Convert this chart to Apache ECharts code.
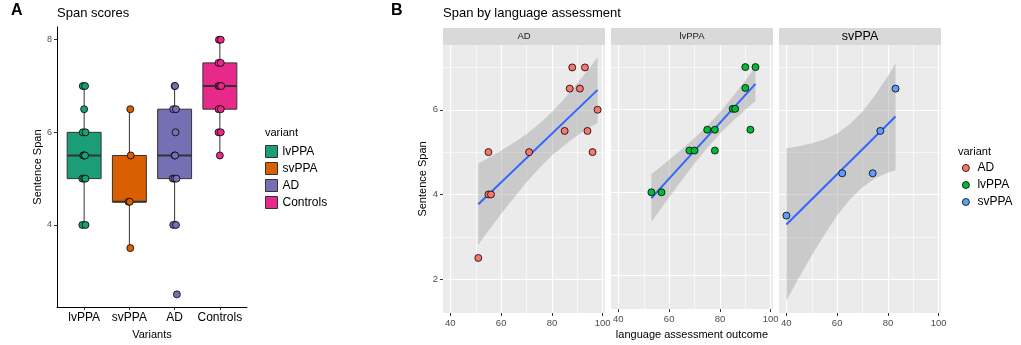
<!DOCTYPE html>
<html>
<head>
<meta charset="utf-8">
<script src="https://cdn.jsdelivr.net/npm/echarts@6/dist/echarts.min.js"></script>
<style>
html, body { margin: 0; padding: 0; background: #fff; }
#chart { width: 1021px; height: 345px; }
</style>
</head>
<body>
<div id="chart"></div>
<script>
var FONT = '"Liberation Sans", Arial, sans-serif';

// ---- panel A : span scores by variant ----
var variantsA = ['lvPPA', 'svPPA', 'AD', 'Controls'];
var colorsA = ['#1b9e77', '#d95f02', '#7570b3', '#e7298a'];
// min, q1, median, q3, max
var boxLvPPA = [4, 5, 5.5, 6, 7];
var boxSvPPA = [3.5, 4.5, 4.5, 5.5, 6.5];
var boxAD = [4, 5, 5.5, 6.5, 7];
var boxControls = [5.5, 6.5, 7, 7.5, 8];
var spanLvPPA = [7, 7, 6.5, 6, 6, 5.5, 5.5, 5.5, 5, 5, 5, 4, 4];
var jitLvPPA = [-0.03, 0.02, 0.0, -0.03, 0.03, -0.02, 0.0, 0.02, -0.04, 0.0, 0.03, -0.04, 0.03];
var spanSvPPA = [6.5, 5.5, 4.5, 4.5, 3.5];
var jitSvPPA = [0.02, 0.03, -0.02, 0.01, 0.02];
var spanAD = [7, 7, 6.5, 6.5, 6, 5.5, 5.5, 5, 5, 5, 4, 4, 2.5];
var jitAD = [0.0, 0.01, -0.03, 0.03, 0.02, 0.0, 0.01, -0.04, 0.0, 0.04, -0.03, 0.03, 0.05];
var spanControls = [8, 8, 7.5, 7.5, 7, 7, 7, 6.5, 6.5, 6, 6, 5.5];
var jitControls = [-0.02, 0.02, -0.03, 0.02, -0.03, 0.0, 0.03, -0.03, 0.02, -0.03, 0.02, 0.0];
var ticksSpanA = [4, 6, 8];

// ---- panel B : span by language assessment ----
var facets = ['AD', 'lvPPA', 'svPPA'];
var colorsB = ['#f8766d', '#00ba38', '#619cff'];
var langAD = [51, 55, 55, 56, 71, 85, 87, 88, 91, 93, 94, 96, 98];
var spanB_AD = [2.5, 5, 4, 4, 5, 5.5, 6.5, 7, 6.5, 7, 5.5, 5, 6];
var langLv = [53, 57, 68, 70, 75, 78, 78, 85, 86, 90, 90, 92, 94];
var spanB_Lv = [4, 4, 5, 5, 5.5, 5.5, 5, 6, 6, 6.5, 7, 5.5, 7];
var langSv = [40, 62, 74, 77, 83];
var spanB_Sv = [3.5, 4.5, 4.5, 5.5, 6.5];
// fitted line end points
var fitAD = [[51, 3.77], [98, 6.47]];
var fitLv = [[53, 3.86], [94, 6.60]];
var fitSv = [[40, 3.29], [83, 5.84]];
// confidence band
var bandX_AD = [51, 55, 60, 65, 70, 75, 80, 85, 90, 95, 98];
var bandLo_AD = [2.81, 3.14, 3.54, 3.92, 4.29, 4.62, 4.92, 5.17, 5.39, 5.59, 5.69];
var bandHi_AD = [4.73, 4.86, 5.04, 5.22, 5.43, 5.67, 5.95, 6.27, 6.63, 7.00, 7.24];
var bandX_Lv = [53, 60, 65, 70, 75, 80, 85, 90, 94];
var bandLo_Lv = [3.29, 3.88, 4.29, 4.69, 5.06, 5.40, 5.70, 5.98, 6.19];
var bandHi_Lv = [4.43, 4.78, 5.03, 5.30, 5.59, 5.92, 6.29, 6.68, 7.00];
var bandX_Sv = [40, 45, 50, 55, 60, 65, 70, 75, 80, 83];
var bandLo_Sv = [1.49, 2.04, 2.56, 3.05, 3.50, 3.88, 4.17, 4.38, 4.51, 4.57];
var bandHi_Sv = [5.09, 5.14, 5.21, 5.30, 5.44, 5.66, 5.96, 6.35, 6.80, 7.10];
var ticksLang = [40, 60, 80, 100];
var minorLang = [50, 70, 90];
var ticksSpanB = [2, 4, 6];
var minorSpanB = [3, 5, 7];

var boxes = [boxLvPPA, boxSvPPA, boxAD, boxControls];
var spansA = [spanLvPPA, spanSvPPA, spanAD, spanControls];
var jitsA = [jitLvPPA, jitSvPPA, jitAD, jitControls];
var langs = [langAD, langLv, langSv];
var spansB = [spanB_AD, spanB_Lv, spanB_Sv];
var fits = [fitAD, fitLv, fitSv];
var bandX = [bandX_AD, bandX_Lv, bandX_Sv];
var bandLo = [bandLo_AD, bandLo_Lv, bandLo_Sv];
var bandHi = [bandHi_AD, bandHi_Lv, bandHi_Sv];

var facetLeft = [443, 611, 779];
var facetW = 162;

function renderBox(params, api) {
    var x = api.value(0);
    var lo = api.coord([x, api.value(1)]);
    var q1 = api.coord([x, api.value(2)]);
    var md = api.coord([x, api.value(3)]);
    var q3 = api.coord([x, api.value(4)]);
    var hi = api.coord([x, api.value(5)]);
    var w = api.size([0.75, 0])[0];
    var col = api.visual('color');
    var ln = {stroke: '#333', lineWidth: 1};
    return {
        type: 'group',
        children: [
            {type: 'line', shape: {x1: lo[0], y1: lo[1], x2: q1[0], y2: q1[1]}, style: ln},
            {type: 'line', shape: {x1: q3[0], y1: q3[1], x2: hi[0], y2: hi[1]}, style: ln},
            {type: 'rect', shape: {x: q3[0] - w / 2, y: q3[1], width: w, height: q1[1] - q3[1]},
                style: {fill: col, stroke: '#333', lineWidth: 1}},
            {type: 'line', shape: {x1: md[0] - w / 2, y1: md[1], x2: md[0] + w / 2, y2: md[1]},
                style: {stroke: '#333', lineWidth: 2}}
        ]
    };
}

function ribbon(xs, lo, hi) {
    return function (params, api) {
        var pts = [];
        for (var i = 0; i < xs.length; i++) pts.push(api.coord([xs[i], hi[i]]));
        for (var j = xs.length - 1; j >= 0; j--) pts.push(api.coord([xs[j], lo[j]]));
        return {type: 'polygon', shape: {points: pts}, style: {fill: 'rgba(153,153,153,0.4)'}};
    };
}

var grids = [{left: 57, top: 27, width: 190, height: 286}];
facetLeft.forEach(function (l) {
    grids.push({left: l, top: 45, width: facetW, height: 268, show: true,
        backgroundColor: '#ebebeb', borderWidth: 0});
});

var xAxes = [{
    gridIndex: 0, type: 'value', min: 0.4, max: 4.6,
    axisLine: {show: true, onZero: false, lineStyle: {color: '#000', width: 1}},
    axisTick: {show: true, customValues: [1, 2, 3, 4], length: 3, lineStyle: {color: '#333'}},
    axisLabel: {customValues: [1, 2, 3, 4], formatter: function (v) { return variantsA[Math.round(v) - 1]; },
        fontSize: 12, color: '#000', margin: 5, fontFamily: FONT},
    splitLine: {show: false},
    name: 'Variants', nameLocation: 'middle', nameGap: 15,
    nameTextStyle: {fontSize: 11, color: '#000', fontFamily: FONT}
}];
var yAxes = [{
    gridIndex: 0, type: 'value', min: 2.225, max: 8.275,
    axisLine: {show: true, onZero: false, lineStyle: {color: '#000', width: 1}},
    axisTick: {show: true, customValues: ticksSpanA, length: 3, lineStyle: {color: '#333'}},
    axisLabel: {customValues: ticksSpanA, fontSize: 9, color: '#4d4d4d', margin: 5, fontFamily: FONT},
    splitLine: {show: false},
    name: 'Sentence Span', nameLocation: 'middle', nameGap: 14,
    nameTextStyle: {fontSize: 11, color: '#000', fontFamily: FONT}
}];
// major axes for the facets
[0, 1, 2].forEach(function (k) {
    xAxes.push({
        gridIndex: k + 1, type: 'value', min: 37.1, max: 100.9,
        axisLine: {show: false},
        axisTick: {show: true, customValues: ticksLang, length: 3, lineStyle: {color: '#333'}},
        axisLabel: {customValues: ticksLang, fontSize: 9.5, color: '#4d4d4d', margin: 5, fontFamily: FONT},
        splitLine: {show: true, lineStyle: {color: '#fff', width: 1.2}},
        name: k === 1 ? 'language assessment outcome' : '', nameLocation: 'middle', nameGap: 15,
        nameTextStyle: {fontSize: 11, color: '#000', fontFamily: FONT}
    });
    yAxes.push({
        gridIndex: k + 1, type: 'value', min: 1.2, max: 7.53,
        axisLine: {show: false},
        axisTick: {show: k === 0, customValues: ticksSpanB, length: 3, lineStyle: {color: '#333'}},
        axisLabel: {show: k === 0, customValues: ticksSpanB, fontSize: 9.5, color: '#4d4d4d', margin: 5, fontFamily: FONT},
        splitLine: {show: true, lineStyle: {color: '#fff', width: 1.2}},
        name: k === 0 ? 'Sentence Span' : '', nameLocation: 'middle', nameGap: 14,
        nameTextStyle: {fontSize: 11, color: '#000', fontFamily: FONT}
    });
});
// minor grid lines
[0, 1, 2].forEach(function (k) {
    xAxes.push({
        gridIndex: k + 1, type: 'value', min: 37.1, max: 100.9,
        axisLine: {show: false},
        axisTick: {show: false, customValues: minorLang},
        axisLabel: {show: false, customValues: minorLang},
        splitLine: {show: true, lineStyle: {color: '#fff', width: 0.6}}
    });
    yAxes.push({
        gridIndex: k + 1, type: 'value', min: 1.2, max: 7.53,
        axisLine: {show: false},
        axisTick: {show: false, customValues: minorSpanB},
        axisLabel: {show: false, customValues: minorSpanB},
        splitLine: {show: true, lineStyle: {color: '#fff', width: 0.6}}
    });
});

var series = [];
variantsA.forEach(function (v, i) {
    series.push({
        type: 'custom', name: 'A|' + v, xAxisIndex: 0, yAxisIndex: 0,
        renderItem: renderBox, data: [[i + 1].concat(boxes[i])],
        encode: {x: 0, y: [1, 2, 3, 4, 5]},
        itemStyle: {color: colorsA[i]}, z: 2, silent: true
    });
    series.push({
        type: 'scatter', name: 'A|' + v, xAxisIndex: 0, yAxisIndex: 0,
        data: spansA[i].map(function (s, k) { return [i + 1 + jitsA[i][k], s]; }),
        symbolSize: 7,
        itemStyle: {color: colorsA[i], borderColor: '#000', borderWidth: 0.8, opacity: 1},
        z: 3, silent: true
    });
});
facets.forEach(function (f, k) {
    series.push({
        type: 'custom', xAxisIndex: k + 1, yAxisIndex: k + 1,
        renderItem: ribbon(bandX[k], bandLo[k], bandHi[k]),
        data: [[bandX[k][0], bandLo[k][0]]], encode: {x: 0, y: 1}, z: 2, silent: true
    });
    series.push({
        type: 'line', xAxisIndex: k + 1, yAxisIndex: k + 1, data: fits[k],
        showSymbol: false, lineStyle: {color: '#3366ff', width: 2}, z: 3, silent: true
    });
    series.push({
        type: 'scatter', name: 'B|' + f, xAxisIndex: k + 1, yAxisIndex: k + 1,
        data: langs[k].map(function (x, j) { return [x, spansB[k][j]]; }),
        symbolSize: 7,
        itemStyle: {color: colorsB[k], borderColor: '#000', borderWidth: 0.8, opacity: 1},
        z: 4, silent: true
    });
});

var graphic = [];
facets.forEach(function (f, k) {
    graphic.push({type: 'rect', left: facetLeft[k], top: 28, shape: {width: facetW, height: 17},
        style: {fill: '#d9d9d9'}, silent: true});
    graphic.push({type: 'text', x: facetLeft[k] + facetW / 2, y: 36.5,
        style: {text: f, align: 'center', verticalAlign: 'middle',
            fontSize: k === 2 ? 12.5 : 9.5, fill: k === 2 ? '#000' : '#1a1a1a', fontFamily: FONT}, silent: true});
});

var titleStyle = function (size, bold) {
    return {fontSize: size, fontWeight: bold ? 'bold' : 'normal', color: '#000', fontFamily: FONT};
};

var option = {
    animation: false,
    backgroundColor: '#fff',
    textStyle: {fontFamily: FONT},
    title: [
        {text: 'A', left: 11, top: 3, padding: 0, textStyle: titleStyle(16, true)},
        {text: 'Span scores', left: 57, top: 7, padding: 0, textStyle: titleStyle(13)},
        {text: 'variant', left: 265, top: 127, padding: 0, textStyle: titleStyle(11)},
        {text: 'B', left: 391, top: 3, padding: 0, textStyle: titleStyle(16, true)},
        {text: 'Span by language assessment', left: 443, top: 7, padding: 0, textStyle: titleStyle(13)},
        {text: 'variant', left: 958, top: 146, padding: 0, textStyle: titleStyle(11)}
    ],
    legend: [{
        orient: 'vertical', left: 265, top: 145, padding: 0,
        itemWidth: 12, itemHeight: 12, itemGap: 4, selectedMode: false,
        data: variantsA.map(function (v, i) {
            return {name: 'A|' + v, icon: 'rect',
                itemStyle: {color: colorsA[i], borderColor: '#333', borderWidth: 1}};
        }),
        formatter: function (n) { return n.split('|')[1]; },
        textStyle: {fontSize: 12, color: '#000', fontFamily: FONT}
    }, {
        orient: 'vertical', left: 962, top: 162, padding: 0,
        itemWidth: 7, itemHeight: 7, itemGap: 5, selectedMode: false,
        data: facets.map(function (f, k) {
            return {name: 'B|' + f, icon: 'circle',
                itemStyle: {color: colorsB[k], borderColor: '#000', borderWidth: 0.8}};
        }),
        formatter: function (n) { return n.split('|')[1]; },
        textStyle: {fontSize: 12, color: '#000', fontFamily: FONT, padding: [0, 0, 0, 3]}
    }],
    grid: grids,
    xAxis: xAxes,
    yAxis: yAxes,
    graphic: graphic,
    series: series
};

var chart = echarts.init(document.getElementById('chart'), null, {renderer: 'canvas'});
chart.setOption(option);
</script>
</body>
</html>
